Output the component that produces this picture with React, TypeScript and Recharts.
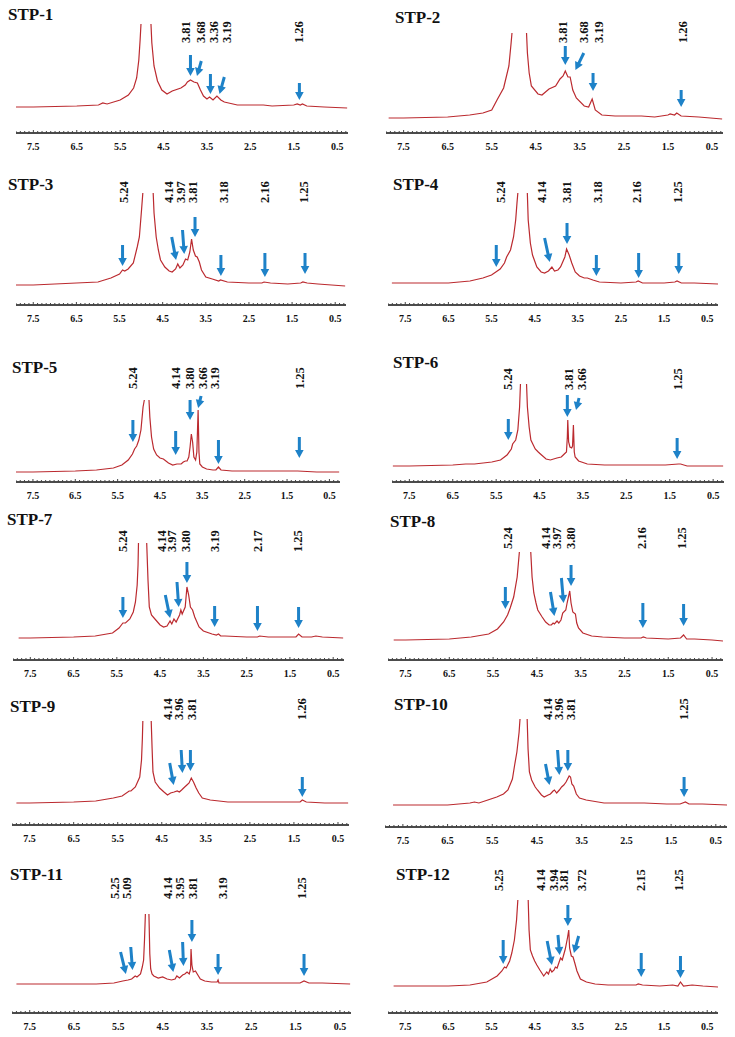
import React from "react";
import { LineChart, Line, XAxis, YAxis, ReferenceDot, ReferenceLine } from "recharts";

type Pt = [number, number | null];
type Lbl = [string, number, number];
type Arw = [number, number, number, number];

const names = ["STP-1", "STP-2", "STP-3", "STP-4", "STP-5", "STP-6", "STP-7", "STP-8", "STP-9", "STP-10", "STP-11", "STP-12"];
const ppmTicks = [7.5, 6.5, 5.5, 4.5, 3.5, 2.5, 1.5, 0.5];

// spectra: [ppm, intensity]; null breaks the clipped water peak
const stp1Spectrum: Pt[] = [[7.91, 26], [7.5, 26], [6.5, 27], [6.0, 28], [5.9, 30], [5.8, 29], [5.5, 33], [5.31, 38], [5.19, 45], [5.12, 55], [5.07, 73], [5.04, 93], [5.02, 109], [4.9, null], [4.79, 109], [4.77, 90], [4.72, 67], [4.64, 52], [4.54, 43], [4.42, 39], [4.3, 42], [4.1, 45], [4.0, 48], [3.95, 51], [3.88, 53], [3.8, 51], [3.72, 50], [3.65, 43], [3.58, 37], [3.5, 34], [3.44, 36], [3.36, 33], [3.27, 37], [3.18, 33], [3.1, 31], [3.0, 30], [2.8, 28], [2.2, 28], [2.0, 27], [1.5, 28], [1.42, 29], [1.35, 28], [1.3, 29], [1.2, 27], [0.8, 26], [0.27, 25]];
const stp1Labels: Lbl[] = [["3.81", 4.0, 90], ["3.68", 3.65, 90], ["3.36", 3.35, 90], ["3.19", 3.04, 90], ["1.26", 1.38, 90]];
const stp1Arrows: Arw[] = [[3.88, 78, 3.88, 57], [3.63, 72, 3.73, 57], [3.42, 59, 3.42, 39], [3.1, 56, 3.21, 39], [1.37, 50, 1.37, 33]];

const stp2Spectrum: Pt[] = [[7.84, 15], [7.5, 15], [6.5, 16], [6.0, 18], [5.7, 20], [5.5, 23], [5.38, 33], [5.23, 45], [5.11, 67], [5.06, 90], [5.04, 100], [4.9, null], [4.71, 100], [4.69, 80], [4.65, 60], [4.6, 47], [4.45, 39], [4.36, 38], [4.2, 44], [4.05, 47], [3.95, 54], [3.88, 57], [3.83, 62], [3.77, 56], [3.72, 56], [3.66, 43], [3.58, 35], [3.4, 27], [3.3, 26], [3.22, 34], [3.15, 23], [3.0, 18], [2.7, 17], [2.2, 17], [2.1, 17], [1.8, 16], [1.5, 18], [1.45, 19], [1.35, 18], [1.3, 20], [1.2, 17], [0.8, 16], [0.27, 14]];
const stp2Labels: Lbl[] = [["3.81", 3.88, 90], ["3.68", 3.41, 90], ["3.19", 3.08, 90], ["1.26", 1.17, 90]];
const stp2Arrows: Arw[] = [[3.83, 87, 3.83, 68], [3.41, 80, 3.6, 63], [3.2, 60, 3.2, 42], [1.2, 43, 1.2, 26]];

const stp3Spectrum: Pt[] = [[7.93, 20], [7.5, 20], [6.5, 22], [6.0, 23], [5.7, 27], [5.5, 31], [5.43, 35], [5.38, 34], [5.3, 36], [5.18, 42], [5.09, 58], [5.04, 68], [4.99, 95], [4.96, 112], [4.84, null], [4.72, 112], [4.7, 92], [4.65, 68], [4.6, 55], [4.55, 45], [4.45, 38], [4.35, 34], [4.28, 33], [4.2, 36], [4.15, 41], [4.1, 37], [4.03, 40], [3.97, 46], [3.92, 45], [3.87, 53], [3.83, 66], [3.79, 55], [3.74, 49], [3.7, 48], [3.65, 43], [3.6, 35], [3.5, 28], [3.35, 26], [3.2, 24], [3.16, 25], [3.0, 23], [2.5, 22], [2.2, 22], [2.15, 23], [2.0, 22], [1.6, 21], [1.3, 22], [1.25, 23], [1.15, 22], [0.9, 21], [0.27, 19]];
const stp3Labels: Lbl[] = [["5.24", 5.4, 102], ["4.14", 4.37, 102], ["3.97", 4.08, 102], ["3.81", 3.81, 102], ["3.18", 3.09, 102], ["2.16", 2.14, 102], ["1.25", 1.24, 102]];
const stp3Arrows: Arw[] = [[5.43, 60, 5.43, 39], [4.29, 68, 4.19, 45], [4.04, 75, 4.0, 51], [3.75, 88, 3.75, 68], [3.15, 50, 3.15, 29], [2.13, 52, 2.13, 28], [1.2, 52, 1.2, 31]];

const stp4Spectrum: Pt[] = [[7.81, 22], [7.5, 22], [6.5, 22], [6.0, 24], [5.7, 27], [5.5, 30], [5.4, 33], [5.3, 36], [5.2, 42], [5.15, 48], [5.06, 55], [4.99, 68], [4.94, 85], [4.91, 102], [4.89, 112], [4.78, null], [4.67, 112], [4.65, 85], [4.6, 62], [4.55, 50], [4.45, 38], [4.35, 33], [4.27, 32], [4.18, 34], [4.1, 38], [4.04, 34], [3.96, 35], [3.9, 38], [3.86, 42], [3.8, 48], [3.76, 56], [3.7, 50], [3.64, 42], [3.56, 33], [3.46, 29], [3.35, 27], [3.28, 27], [3.15, 25], [3.0, 23], [2.5, 22], [2.15, 23], [2.1, 24], [2.0, 22], [1.5, 22], [1.25, 23], [1.2, 24], [1.1, 22], [0.8, 22], [0.25, 21]];
const stp4Labels: Lbl[] = [["5.24", 5.3, 102], ["4.14", 4.35, 102], ["3.81", 3.75, 102], ["3.18", 3.05, 102], ["2.16", 2.13, 102], ["1.25", 1.18, 102]];
const stp4Arrows: Arw[] = [[5.39, 60, 5.39, 38], [4.27, 67, 4.15, 43], [3.75, 82, 3.75, 61], [3.07, 50, 3.07, 29], [2.09, 52, 2.09, 27], [1.16, 52, 1.16, 31]];

const stp5Spectrum: Pt[] = [[7.93, 10], [7.5, 10], [6.5, 11], [6.0, 12], [5.6, 14], [5.4, 17], [5.25, 22], [5.15, 28], [5.1, 33], [5.05, 36], [5.0, 42], [4.95, 52], [4.9, 75], [4.87, 82], [4.8, null], [4.76, 82], [4.74, 65], [4.7, 45], [4.65, 33], [4.58, 27], [4.5, 24], [4.42, 23], [4.3, 19], [4.2, 17], [4.1, 18], [4.0, 18], [3.95, 20], [3.9, 21], [3.86, 21], [3.82, 25], [3.79, 35], [3.76, 48], [3.73, 40], [3.7, 25], [3.66, 22], [3.63, 30], [3.6, 72], [3.58, 30], [3.56, 18], [3.5, 15], [3.4, 13], [3.25, 12], [3.18, 12], [3.12, 15], [3.06, 12], [2.8, 11], [2.2, 11], [1.8, 11], [1.25, 11], [0.8, 10], [0.27, 10]];
const stp5Labels: Lbl[] = [["5.24", 5.14, 93], ["4.14", 4.14, 93], ["3.80", 3.8, 93], ["3.66", 3.49, 93], ["3.19", 3.21, 93], ["1.25", 1.21, 93]];
const stp5Arrows: Arw[] = [[5.14, 62, 5.14, 40], [4.13, 51, 4.13, 27], [3.79, 82, 3.79, 62], [3.53, 86, 3.6, 74], [3.12, 42, 3.12, 18], [1.21, 45, 1.21, 24]];

const stp6Spectrum: Pt[] = [[7.88, 16], [7.5, 16], [6.5, 17], [6.2, 18], [6.0, 18], [5.6, 20], [5.4, 22], [5.25, 27], [5.15, 33], [5.12, 38], [5.05, 42], [5.0, 52], [4.96, 75], [4.94, 98], [4.87, null], [4.8, 98], [4.78, 75], [4.74, 55], [4.7, 42], [4.6, 33], [4.53, 30], [4.48, 28], [4.35, 23], [4.25, 22], [4.1, 24], [4.0, 25], [3.93, 28], [3.88, 30], [3.86, 45], [3.85, 62], [3.83, 40], [3.8, 35], [3.76, 34], [3.74, 36], [3.72, 57], [3.7, 30], [3.68, 25], [3.6, 21], [3.4, 18], [3.0, 17], [2.2, 17], [1.6, 17], [1.3, 18], [1.25, 18], [1.1, 16], [0.6, 16], [0.27, 16]];
const stp6Labels: Lbl[] = [["5.24", 5.24, 92], ["3.81", 3.84, 92], ["3.66", 3.53, 92], ["1.25", 1.33, 92]];
const stp6Arrows: Arw[] = [[5.22, 63, 5.22, 42], [3.86, 87, 3.86, 65], [3.59, 84, 3.66, 72], [1.33, 44, 1.33, 23]];

const stp7Spectrum: Pt[] = [[7.77, 22], [7.5, 22], [6.5, 23], [6.0, 24], [5.6, 27], [5.45, 32], [5.36, 37], [5.3, 37], [5.2, 41], [5.12, 48], [5.07, 58], [5.03, 75], [5.01, 95], [5.0, 117], [4.9, null], [4.81, 117], [4.78, 80], [4.75, 53], [4.7, 45], [4.6, 40], [4.5, 35], [4.42, 33], [4.34, 34], [4.27, 39], [4.23, 36], [4.18, 41], [4.13, 38], [4.05, 45], [4.02, 50], [3.99, 46], [3.92, 53], [3.88, 73], [3.84, 65], [3.8, 53], [3.75, 50], [3.7, 43], [3.6, 33], [3.5, 29], [3.3, 26], [3.2, 25], [3.15, 26], [3.1, 24], [3.0, 24], [2.5, 23], [2.25, 23], [2.2, 24], [2.0, 23], [1.5, 23], [1.36, 23], [1.3, 26], [1.22, 23], [1.0, 23], [0.9, 24], [0.75, 23], [0.27, 22]];
const stp7Labels: Lbl[] = [["5.24", 5.36, 108], ["4.14", 4.46, 108], ["3.97", 4.23, 108], ["3.80", 3.92, 108], ["3.19", 3.23, 108], ["2.17", 2.25, 108], ["1.25", 1.33, 108]];
const stp7Arrows: Arw[] = [[5.36, 63, 5.36, 42], [4.38, 65, 4.27, 42], [4.11, 78, 4.07, 53], [3.88, 98, 3.88, 77], [3.24, 54, 3.24, 33], [2.25, 54, 2.25, 29], [1.3, 53, 1.3, 32]];

const stp8Spectrum: Pt[] = [[7.77, 20], [7.5, 20], [6.5, 21], [6.0, 23], [5.6, 26], [5.4, 31], [5.26, 38], [5.17, 45], [5.11, 52], [5.03, 63], [4.95, 83], [4.9, 108], [4.77, null], [4.64, 108], [4.61, 83], [4.57, 67], [4.52, 57], [4.48, 50], [4.38, 43], [4.3, 38], [4.22, 35], [4.17, 35], [4.13, 37], [4.1, 36], [4.04, 39], [4.0, 37], [3.95, 40], [3.91, 47], [3.84, 50], [3.81, 57], [3.75, 69], [3.72, 57], [3.68, 48], [3.62, 46], [3.59, 37], [3.55, 32], [3.45, 27], [3.25, 24], [3.0, 23], [2.5, 22], [2.12, 22], [2.07, 23], [2.0, 22], [1.5, 21], [1.22, 22], [1.15, 25], [1.08, 21], [0.9, 21], [0.5, 20], [0.25, 19]];
const stp8Labels: Lbl[] = [["5.24", 5.17, 111], ["4.14", 4.29, 111], ["3.97", 4.06, 111], ["3.80", 3.74, 111], ["2.16", 2.1, 111], ["1.25", 1.19, 111]];
const stp8Arrows: Arw[] = [[5.22, 73, 5.22, 51], [4.19, 68, 4.1, 44], [3.94, 82, 3.89, 57], [3.72, 95, 3.72, 74], [2.08, 57, 2.08, 32], [1.15, 56, 1.15, 34]];

const stp9Spectrum: Pt[] = [[7.8, 22], [7.5, 22], [6.5, 23], [6.0, 24], [5.6, 27], [5.4, 29], [5.24, 34], [5.2, 34], [5.1, 38], [5.0, 48], [4.96, 65], [4.94, 87], [4.93, 104], [4.83, null], [4.74, 104], [4.72, 77], [4.7, 53], [4.65, 43], [4.55, 37], [4.45, 33], [4.37, 30], [4.3, 32], [4.22, 33], [4.15, 34], [4.1, 33], [4.05, 35], [3.98, 38], [3.93, 40], [3.88, 42], [3.83, 47], [3.78, 43], [3.72, 37], [3.66, 32], [3.58, 27], [3.4, 25], [3.0, 23], [2.2, 23], [1.6, 23], [1.36, 23], [1.31, 25], [1.22, 23], [0.8, 22], [0.27, 22]];
const stp9Labels: Lbl[] = [["4.14", 4.37, 105], ["3.96", 4.12, 105], ["3.81", 3.83, 105], ["1.26", 1.33, 105]];
const stp9Arrows: Arw[] = [[4.32, 62, 4.23, 40], [4.06, 75, 4.03, 52], [3.85, 75, 3.85, 54], [1.31, 48, 1.31, 28]];

const stp10Spectrum: Pt[] = [[7.72, 22], [7.5, 22], [6.5, 22], [6.0, 24], [5.9, 25], [5.8, 24], [5.6, 27], [5.4, 30], [5.25, 33], [5.15, 37], [5.05, 48], [5.0, 62], [4.95, 75], [4.9, 95], [4.88, 108], [4.8, null], [4.72, 108], [4.7, 78], [4.67, 55], [4.62, 47], [4.54, 40], [4.49, 37], [4.4, 32], [4.34, 30], [4.25, 32], [4.2, 33], [4.14, 36], [4.11, 37], [4.06, 34], [4.0, 37], [3.95, 40], [3.9, 42], [3.85, 45], [3.78, 51], [3.75, 50], [3.72, 43], [3.68, 41], [3.62, 33], [3.55, 29], [3.4, 27], [3.0, 24], [2.2, 24], [2.1, 24], [1.6, 23], [1.3, 23], [1.18, 25], [1.1, 23], [0.9, 23], [0.8, 23], [0.25, 22]];
const stp10Labels: Lbl[] = [["4.14", 4.26, 107], ["3.96", 4.02, 107], ["3.81", 3.74, 107], ["1.25", 1.21, 107]];
const stp10Arrows: Arw[] = [[4.31, 63, 4.22, 42], [4.04, 77, 4.0, 52], [3.81, 77, 3.81, 56], [1.21, 50, 1.21, 30]];

const stp11Spectrum: Pt[] = [[7.8, 29], [7.5, 29], [6.5, 29], [6.0, 29], [5.6, 30], [5.4, 32], [5.28, 33], [5.2, 34], [5.12, 37], [5.08, 36], [5.0, 39], [4.96, 46], [4.93, 53], [4.91, 73], [4.89, 99], [4.85, null], [4.81, 99], [4.79, 59], [4.77, 44], [4.74, 39], [4.7, 37], [4.6, 35], [4.5, 36], [4.4, 34], [4.3, 33], [4.22, 34], [4.18, 37], [4.12, 35], [4.05, 38], [4.0, 39], [3.95, 41], [3.9, 39], [3.87, 44], [3.86, 64], [3.84, 48], [3.81, 41], [3.76, 42], [3.72, 39], [3.65, 34], [3.55, 32], [3.4, 31], [3.27, 31], [3.25, 33], [3.23, 30], [2.8, 30], [2.2, 30], [1.8, 30], [1.4, 30], [1.31, 32], [1.2, 30], [0.9, 30], [0.27, 29]];
const stp11Labels: Lbl[] = [["5.25", 5.58, 114], ["5.09", 5.32, 114], ["4.14", 4.38, 114], ["3.95", 4.11, 114], ["3.81", 3.83, 114], ["3.19", 3.15, 114], ["1.25", 1.37, 114]];
const stp11Arrows: Arw[] = [[5.45, 61, 5.33, 39], [5.22, 66, 5.18, 43], [4.35, 63, 4.26, 41], [4.05, 71, 4.03, 47], [3.84, 93, 3.84, 71], [3.25, 59, 3.25, 38], [1.31, 59, 1.31, 37]];

const stp12Spectrum: Pt[] = [[7.77, 27], [7.5, 27], [6.5, 27], [6.0, 28], [5.61, 31], [5.37, 37], [5.26, 42], [5.2, 46], [5.16, 45], [5.08, 52], [5.03, 60], [4.97, 73], [4.92, 93], [4.89, 113], [4.77, null], [4.65, 113], [4.63, 83], [4.6, 63], [4.55, 57], [4.5, 52], [4.45, 48], [4.38, 43], [4.29, 37], [4.22, 41], [4.18, 39], [4.14, 44], [4.1, 41], [4.05, 43], [4.02, 46], [3.98, 45], [3.94, 50], [3.9, 55], [3.86, 53], [3.79, 64], [3.74, 75], [3.71, 83], [3.69, 65], [3.65, 57], [3.61, 56], [3.57, 50], [3.52, 42], [3.44, 34], [3.3, 31], [3.1, 29], [2.8, 28], [2.4, 28], [2.15, 28], [2.1, 29], [2.0, 28], [1.6, 27], [1.3, 28], [1.18, 27], [1.12, 31], [1.05, 27], [0.85, 28], [0.6, 27], [0.25, 26]];
const stp12Labels: Lbl[] = [["5.25", 5.33, 122], ["4.14", 4.37, 122], ["3.94", 4.07, 122], ["3.81", 3.83, 122], ["3.72", 3.42, 122], ["2.15", 2.05, 122], ["1.25", 1.16, 122]];
const stp12Arrows: Arw[] = [[5.23, 73, 5.23, 49], [4.21, 72, 4.1, 48], [3.96, 78, 3.92, 58], [3.73, 108, 3.73, 87], [3.48, 77, 3.59, 60], [2.03, 60, 2.03, 36], [1.12, 57, 1.12, 35]];

const spectra = [stp1Spectrum, stp2Spectrum, stp3Spectrum, stp4Spectrum, stp5Spectrum, stp6Spectrum, stp7Spectrum, stp8Spectrum, stp9Spectrum, stp10Spectrum, stp11Spectrum, stp12Spectrum];
const peakLabels = [stp1Labels, stp2Labels, stp3Labels, stp4Labels, stp5Labels, stp6Labels, stp7Labels, stp8Labels, stp9Labels, stp10Labels, stp11Labels, stp12Labels];
const peakArrows = [stp1Arrows, stp2Arrows, stp3Arrows, stp4Arrows, stp5Arrows, stp6Arrows, stp7Arrows, stp8Arrows, stp9Arrows, stp10Arrows, stp11Arrows, stp12Arrows];

// page layout (px): axis left/width, axis line y, title position
const layout = [
  { left: 16, width: 332, axisY: 133, tx: 8, ty: 15 },
  { left: 386, width: 337, axisY: 133, tx: 395, ty: 18 },
  { left: 16, width: 330, axisY: 305, tx: 8, ty: 185 },
  { left: 388, width: 330, axisY: 305, tx: 393, ty: 185 },
  { left: 16, width: 324, axisY: 482, tx: 12, ty: 368 },
  { left: 392, width: 332, axisY: 482, tx: 393, ty: 363 },
  { left: 13, width: 331, axisY: 660, tx: 7, ty: 520 },
  { left: 388, width: 335, axisY: 660, tx: 390, ty: 522 },
  { left: 12, width: 337, axisY: 825, tx: 10, ty: 707 },
  { left: 385, width: 342, axisY: 827, tx: 394, ty: 705 },
  { left: 12, width: 339, axisY: 1013, tx: 10, ty: 875 },
  { left: 388, width: 330, axisY: 1013, tx: 396, ty: 875 },
];

const PLOT_H = 150;
const AXIS_H = 26;
const SERIF = '"Liberation Serif", "Times New Roman", serif';
const RED = "#bb2a2f";
const BLUE = "#1e82c8";

const minorTicks: number[] = [];
for (let i = 3; i <= 79; i++) minorTicks.push(i / 10);

function renderTick(props: any) {
  const { x, y, payload } = props;
  const v = Math.round(payload.value * 10) / 10;
  const major = ppmTicks.includes(v);
  return (
    <g>
      <line x1={x} x2={x} y1={y} y2={y - (major ? 3 : 2)} stroke="#444" strokeWidth={1} />
      {major && (
        <text x={x} y={y + 17} textAnchor="middle" fontFamily={SERIF} fontWeight="bold" fontSize={10} fill="#111">
          {v.toFixed(1)}
        </text>
      )}
    </g>
  );
}

function arrowShape(p: any) {
  const { x1, y1, x2, y2 } = p;
  const dx = x2 - x1;
  const dy = y2 - y1;
  const len = Math.hypot(dx, dy) || 1;
  const ux = dx / len;
  const uy = dy / len;
  const nx = -uy;
  const ny = ux;
  const hl = 8, hw = 4.3, sw = 1.5;
  const bx = x2 - ux * hl;
  const by = y2 - uy * hl;
  const pts = [
    [x1 + nx * sw, y1 + ny * sw],
    [bx + nx * sw, by + ny * sw],
    [bx + nx * hw, by + ny * hw],
    [x2, y2],
    [bx - nx * hw, by - ny * hw],
    [bx - nx * sw, by - ny * sw],
    [x1 - nx * sw, y1 - ny * sw],
  ];
  return <polygon points={pts.map((q) => q.join(",")).join(" ")} fill={BLUE} />;
}

function Panel({ idx }: { idx: number }) {
  const L = layout[idx];
  const data = spectra[idx].map(([x, y]) => ({ x, y }));
  return (
    <>
      <div
        style={{
          position: "absolute",
          left: L.tx,
          top: L.ty - 11,
          fontFamily: SERIF,
          fontWeight: "bold",
          fontSize: 17,
          lineHeight: "22px",
          whiteSpace: "nowrap",
          color: "#111",
        }}
      >
        {names[idx]}
      </div>
      <div style={{ position: "absolute", left: L.left, top: L.axisY - PLOT_H }}>
        <LineChart width={L.width} height={PLOT_H + AXIS_H} data={data} margin={{ top: 0, right: 0, bottom: 0, left: 0 }}>
          <XAxis
            type="number"
            dataKey="x"
            domain={[0.25, 7.9]}
            reversed
            allowDataOverflow
            ticks={minorTicks}
            interval={0}
            tickSize={0}
            tickMargin={0}
            tickLine={false}
            axisLine={{ stroke: "#111", strokeWidth: 1.5 }}
            tick={renderTick}
            height={AXIS_H}
          />
          <YAxis hide type="number" domain={[0, PLOT_H]} allowDataOverflow />
          <Line
            dataKey="y"
            type="linear"
            stroke={RED}
            strokeWidth={1.2}
            dot={false}
            connectNulls={false}
            isAnimationActive={false}
          />
          {peakArrows[idx].map((a, i) => (
            <ReferenceLine
              key={"a" + i}
              segment={[{ x: a[0], y: a[1] }, { x: a[2], y: a[3] }]}
              ifOverflow="visible"
              shape={arrowShape}
            />
          ))}
          {peakLabels[idx].map((l, i) => (
            <ReferenceDot
              key={"l" + i}
              x={l[1]}
              y={l[2]}
              r={0}
              ifOverflow="visible"
              shape={(p: any) => (
                <text
                  transform={`translate(${p.cx},${p.cy}) rotate(-90)`}
                  dy="0.35em"
                  textAnchor="start"
                  fontFamily={SERIF}
                  fontWeight="bold"
                  fontSize={12.5}
                  fill="#111"
                >
                  {l[0]}
                </text>
              )}
            />
          ))}
        </LineChart>
      </div>
    </>
  );
}

export default function App() {
  return (
    <div style={{ position: "absolute", left: 0, top: 0, width: 735, height: 1037, background: "#fff", overflow: "hidden" }}>
      {names.map((_, i) => (
        <Panel key={i} idx={i} />
      ))}
    </div>
  );
}
